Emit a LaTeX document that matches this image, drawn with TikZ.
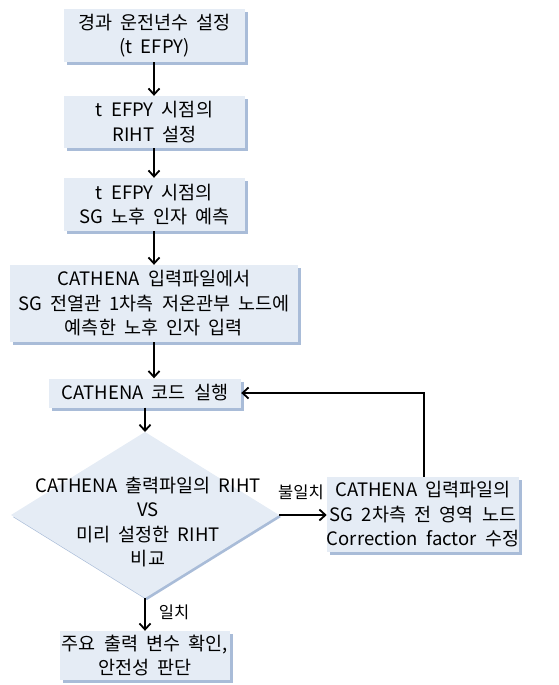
\documentclass[tikz,border=0pt]{standalone}
\usepackage{fontspec}
\setmainfont{Noto Sans CJK KR}[WordSpace=2.0]
\usetikzlibrary{shadows,arrows.meta}
\definecolor{boxfill}{HTML}{E5ECF5}
\definecolor{shadowc}{HTML}{A9BCD8}
\tikzset{
  stepbox/.style={rectangle, fill=boxfill, inner sep=0pt, align=center,
    font=\fontsize{18.5}{24.5}\selectfont,
    general shadow={fill=shadowc, shadow xshift=3pt, shadow yshift=-3pt}},
  txt/.style={inner sep=0pt, align=center, font=\fontsize{18.5}{24.5}\selectfont},
  conn/.style={line width=1.8pt, -{Straight Barb[length=6pt,width=11pt,line width=1.8pt]}},
  lbl/.style={font=\fontsize{16.5}{20}\selectfont, inner sep=0pt}
}
\begin{document}
\begin{tikzpicture}[x=1pt,y=-1pt]
\useasboundingbox (0,0) rectangle (559,685);
\node[stepbox, minimum width=181pt, minimum height=53pt] (b1) at (154.5,35.5) {경과 운전년수 설정\\(t EFPY)};
\node[stepbox, minimum width=181pt, minimum height=52pt] (b2) at (154.5,122) {t EFPY 시점의\\RIHT 설정};
\node[stepbox, minimum width=181pt, minimum height=53pt] (b3) at (154.5,204.5) {t EFPY 시점의\\SG 노후 인자 예측};
\node[stepbox, minimum width=288pt, minimum height=77pt] (b4) at (154,303.5) {CATHENA 입력파일에서\\SG 전열관 1차측 저온관부 노드에\\예측한 노후 인자 입력};
\node[stepbox, minimum width=192pt, minimum height=29pt] (b5) at (145,393) {CATHENA 코드 실행};
% decision diamond
\coordinate (dT) at (145,432);
\coordinate (dR) at (279,515);
\coordinate (dB) at (145,598);
\coordinate (dL) at (11,515);
\fill[shadowc] ([shift={(2,2)}]dT) -- ([shift={(2,2)}]dR) -- ([shift={(2,2)}]dB) -- ([shift={(2,2)}]dL) -- cycle;
\fill[boxfill] (dT) -- (dR) -- (dB) -- (dL) -- cycle;
\node[txt] (d) at (148,522) {CATHENA 출력파일의 RIHT\\VS\\미리 설정한 RIHT\\비교};
\node[stepbox, minimum width=190pt, minimum height=75pt] (r) at (423,514.5) {CATHENA 입력파일의\\SG 2차측 전 영역 노드\\Correction factor 수정};
\node[stepbox, minimum width=170pt, minimum height=49pt] (b6) at (145,655.5) {주요 출력 변수 확인,\\안전성 판단};
\draw[conn] (b1.south -| 154,0) -- (b2.north -| 154,0);
\draw[conn] (b2.south -| 154,0) -- (b3.north -| 154,0);
\draw[conn] (b3.south -| 154,0) -- (b4.north -| 154,0);
\draw[conn] (b4.south -| 154,0) -- (b5.north -| 154,0);
\draw[conn] (b5.south -| 145,0) -- (dT);
\draw[conn] (dB) -- (b6.north);
\draw[conn] (dR) -- (r.west |- dR);
\draw[conn] (r.north -| 424,0) |- (b5.east);
\node[lbl] (l1) at (301,492) {불일치};
\node[lbl] (l2) at (174,612) {일치};
\end{tikzpicture}
\end{document}
